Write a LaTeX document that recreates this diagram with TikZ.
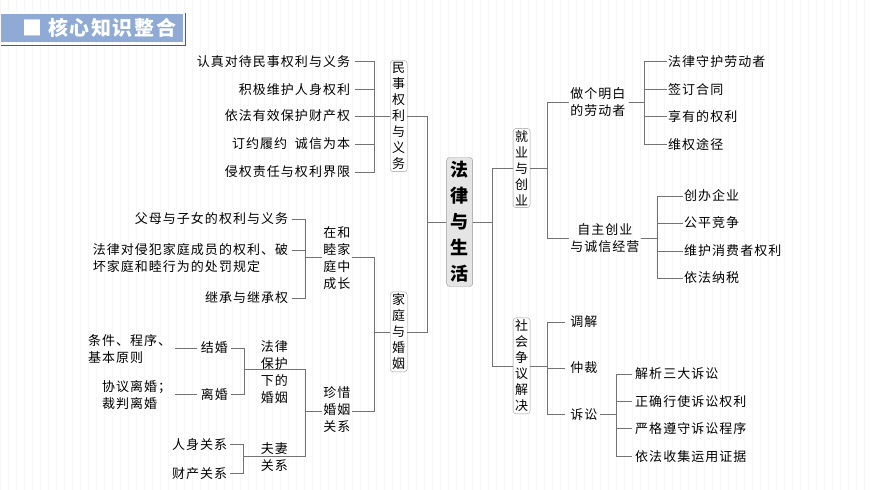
\documentclass[tikz,border=0pt]{standalone}
\usepackage{fontspec}
\setmainfont{Noto Sans CJK SC}[LetterSpace=8]
\usetikzlibrary{calc}
\definecolor{titlebg}{RGB}{143,170,212}
\begin{document}
\begin{tikzpicture}[x=1pt,y=-1pt,
    txt/.style={inner sep=1pt,font=\fontsize{13}{17}\selectfont,align=left},
    bx/.style={draw=gray!80,rounded corners=3pt,fill=white,inner sep=2pt,
        font=\fontsize{13}{16}\selectfont,align=center},
    ln/.style={draw=gray!90!black,line width=0.7pt}]
    % page and faint grid
    \fill[white] (0,0) rectangle (870,490);
    \draw[gray!6,step=8] (0,0) grid (870,490);

    % title
    \fill[titlebg] (0,14) rectangle (183,42);
    \draw[gray!70!black,line width=1.2pt] (185,13) -- (185,45) -- (0,45);
    \node[text=white,font=\fontsize{20}{21}\selectfont\bfseries,anchor=west] (title) at (18,28) {■ 核心知识整合};

    % centre
    \node[bx,fill=gray!20,font=\fontsize{18}{26}\selectfont\bfseries,inner sep=4pt] (law) at (459.5,222) {法\\律\\与\\生\\活};

    % left: civil rights
    \node[bx] (civil) at (398.5,116) {民\\事\\权\\利\\与\\义\\务};
    \node[bx] (family) at (398.5,332) {家\\庭\\与\\婚\\姻};
    \draw[ln] (law.west) -- ++(-19,0) |- (civil.east);
    \draw[ln] (law.west) -- ++(-19,0) |- (family.east);

    \node[txt,anchor=east] (c1) at (351,61) {认真对待民事权利与义务};
    \node[txt,anchor=east] (c2) at (351,89) {积极维护人身权利};
    \node[txt,anchor=east] (c3) at (351,116) {依法有效保护财产权};
    \node[txt,anchor=east] (c4) at (351,144) {订约履约\ \ 诚信为本};
    \node[txt,anchor=east] (c5) at (351,172) {侵权责任与权利界限};
    \foreach \k in {c1,c2,c3,c4,c5}
        \draw[ln] (civil.west) -- ++(-16,0) |- ($(\k.east)+(4,0)$);

    % left: family and marriage
    \node[txt,align=center] (home) at (336.5,258) {在和\\睦家\\庭中\\成长};
    \node[txt,align=center] (cherish) at (336.5,410) {珍惜\\婚姻\\关系};
    \draw[ln] (family.west) -- ++(-16,0) |- ($(home.east)+(0,-1)$);
    \draw[ln] (family.west) -- ++(-16,0) |- ($(cherish.east)+(0,2)$);

    \node[txt,anchor=east] (h1) at (289,219) {父母与子女的权利与义务};
    \node[txt,anchor=east] (h2) at (289,258) {法律对侵犯家庭成员的权利、破\\坏家庭和睦行为的处罚规定};
    \node[txt,anchor=east] (h3) at (289,298) {继承与继承权};
    \draw[ln] ($(home.west)+(0,-1)$) -- ++(-17,0) |- ($(h1.east)+(3,0)$);
    \draw[ln] ($(home.west)+(0,-1)$) -- ++(-17,0) |- ($(h2.east)+(3,-8)$);
    \draw[ln] ($(home.west)+(0,-1)$) -- ++(-17,0) |- ($(h3.east)+(3,0)$);

    \node[txt,align=center] (guard) at (274,372) {法律\\保护\\下的\\婚姻};
    \node[txt,align=center] (couple) at (274,457) {夫妻\\关系};
    \draw[ln] ($(cherish.west)+(0,2)$) -- ++(-17,0) |- ($(guard.west)+(0,-3)$);
    \draw[ln] ($(cherish.west)+(0,2)$) -- ++(-17,0) |- (couple.west);

    \node[txt] (wed) at (214,348) {结婚};
    \node[txt] (divorce) at (214,395) {离婚};
    \draw[ln] ($(guard.west)+(0,-3)$) -- ++(-15,0) |- ($(wed.east)+(2,0)$);
    \draw[ln] ($(guard.west)+(0,-3)$) -- ++(-15,0) |- ($(divorce.east)+(2,0)$);
    \node[txt,anchor=east] (wedrule) at (172,349) {条件、程序、\\基本原则};
    \node[txt,anchor=east] (divkind) at (172,395) {协议离婚；\\裁判离婚};
    \draw[ln] ($(wed.west)+(-3,0)$) -- ++(-22,0);
    \draw[ln] ($(divorce.west)+(-3,0)$) -- ++(-22,0);

    \node[txt,anchor=east] (person) at (228,445) {人身关系};
    \node[txt,anchor=east] (property) at (228,474) {财产关系};
    \draw[ln] (couple.west) -- ++(-16,0) |- ($(person.east)+(2,0)$);
    \draw[ln] (couple.west) -- ++(-16,0) |- ($(property.east)+(2,0)$);

    % right: employment
    \node[bx] (job) at (521.5,168) {就\\业\\与\\创\\业};
    \node[bx] (dispute) at (521.5,366) {社\\会\\争\\议\\解\\决};
    \draw[ln] (law.east) -- ++(19,0) |- (job.west);
    \draw[ln] (law.east) -- ++(19,0) |- (dispute.west);

    \node[txt,anchor=west] (worker) at (569,102) {做个明白\\的劳动者};
    \node[txt,anchor=west,align=center] (startup) at (569,238) {自主创业\\与诚信经营};
    \draw[ln] (job.east) -- ++(17,0) |- (worker.west);
    \draw[ln] (job.east) -- ++(17,0) |- (startup.west);

    \foreach \t/\y [count=\i] in {法律守护劳动者/61,签订合同/89,享有的权利/116,维权途径/144} {
        \node[txt,anchor=west] (w\i) at (667,\y) {\t};
        \draw[ln] ($(worker.east)+(2,0)$) -- ++(16,0) |- (w\i.west);
    }
    \foreach \t/\y [count=\i] in {创办企业/196,公平竞争/223,维护消费者权利/251,依法纳税/278} {
        \node[txt,anchor=west] (s\i) at (683,\y) {\t};
        \draw[ln] ($(startup.east)+(0,0)$) -- ++(17,0) |- (s\i.west);
    }

    % right: disputes
    \node[txt,anchor=west] (mediate) at (569,322) {调解};
    \node[txt,anchor=west] (arbitrate) at (569,368) {仲裁};
    \node[txt,anchor=west] (lawsuit) at (569,415) {诉讼};
    \foreach \k in {mediate,arbitrate,lawsuit}
        \draw[ln] (dispute.east) -- ++(17,0) |- ($(\k.west)+(-4,0)$);

    \foreach \t/\y [count=\i] in {解析三大诉讼/374,正确行使诉讼权利/402,严格遵守诉讼程序/429,依法收集运用证据/457} {
        \node[txt,anchor=west] (l\i) at (634,\y) {\t};
        \draw[ln] ($(lawsuit.east)+(2,0)$) -- ++(16,0) |- ($(l\i.west)+(-2,0)$);
    }
\end{tikzpicture}
\end{document}
